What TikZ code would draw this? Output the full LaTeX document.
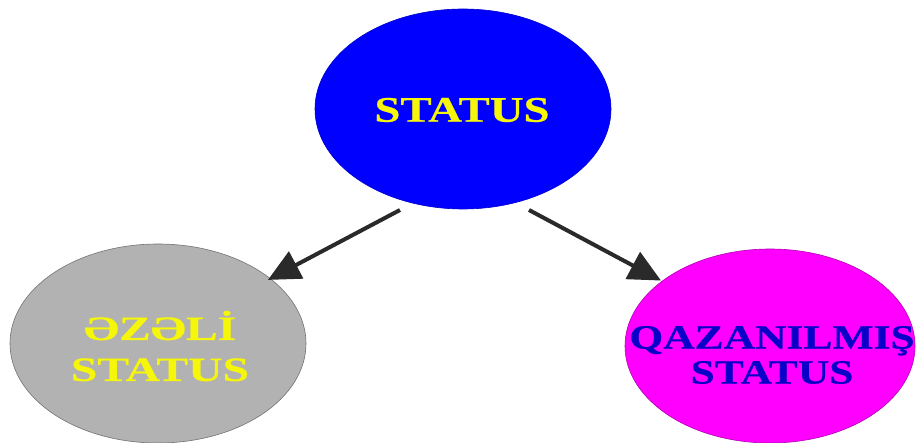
\documentclass[tikz,border=0pt]{standalone}
\usepackage{fontspec}
\setmainfont{Liberation Serif}
\newfontfamily\stretchA[FakeStretch=1.30,BoldFeatures={FakeBold=0.6}]{Liberation Serif}
\newfontfamily\stretchB[FakeStretch=1.28,BoldFeatures={FakeBold=0.6}]{Liberation Serif}
\newfontfamily\stretchC[FakeStretch=1.40,BoldFeatures={FakeBold=0.6}]{Liberation Serif}
\usetikzlibrary{shapes.geometric,arrows.meta}
\definecolor{arrowc}{HTML}{2A2A2A}
\definecolor{ygold}{HTML}{F6F60A}
\definecolor{ink}{HTML}{0A00C8}
\definecolor{mag}{HTML}{FF00FF}
\definecolor{gry}{HTML}{B2B2B2}
\tikzset{
  blob/.style={ellipse,line width=0.6pt,inner sep=0pt},
  caption/.style={align=center,inner sep=0pt},
  link/.style={draw=arrowc,line width=4pt,-{Triangle[length=32pt,width=30pt]}}
}
\begin{document}
\begin{tikzpicture}[x=1pt,y=-1pt]
\useasboundingbox (0,0) rectangle (916,443);
\fill[white] (0,0) rectangle (916,443);
\node[blob,draw=blue!80!black,fill=blue,minimum width=296,minimum height=200] (st) at (463,109) {};
\node[blob,draw=black!55,fill=gry,minimum width=296,minimum height=199] (oz) at (158,343.5) {};
\node[blob,draw=mag!70!black,fill=mag,minimum width=290,minimum height=194] (qa) at (770,346) {};
\node[caption,text=ygold,font=\stretchA\bfseries\fontsize{36}{36}\selectfont] (stt) at (462,110) {STATUS};
\node[caption,text=ygold,font=\stretchC\bfseries\fontsize{34}{41}\selectfont] (ozt) at (160,346) {ƏZƏLİ\\STATUS};
\node[caption,text=ink,font=\stretchB\bfseries\fontsize{34}{35}\selectfont] (qat) at (772,355) {QAZANILMIŞ\\STATUS};
\coordinate (a1) at (400,210);
\coordinate (a2) at (529,210);
\draw[link,shorten >=-3pt] (a1) -- (oz.30.6);
\draw[link,shorten >=1pt] (a2) -- (qa.149.4);
\end{tikzpicture}
\end{document}
